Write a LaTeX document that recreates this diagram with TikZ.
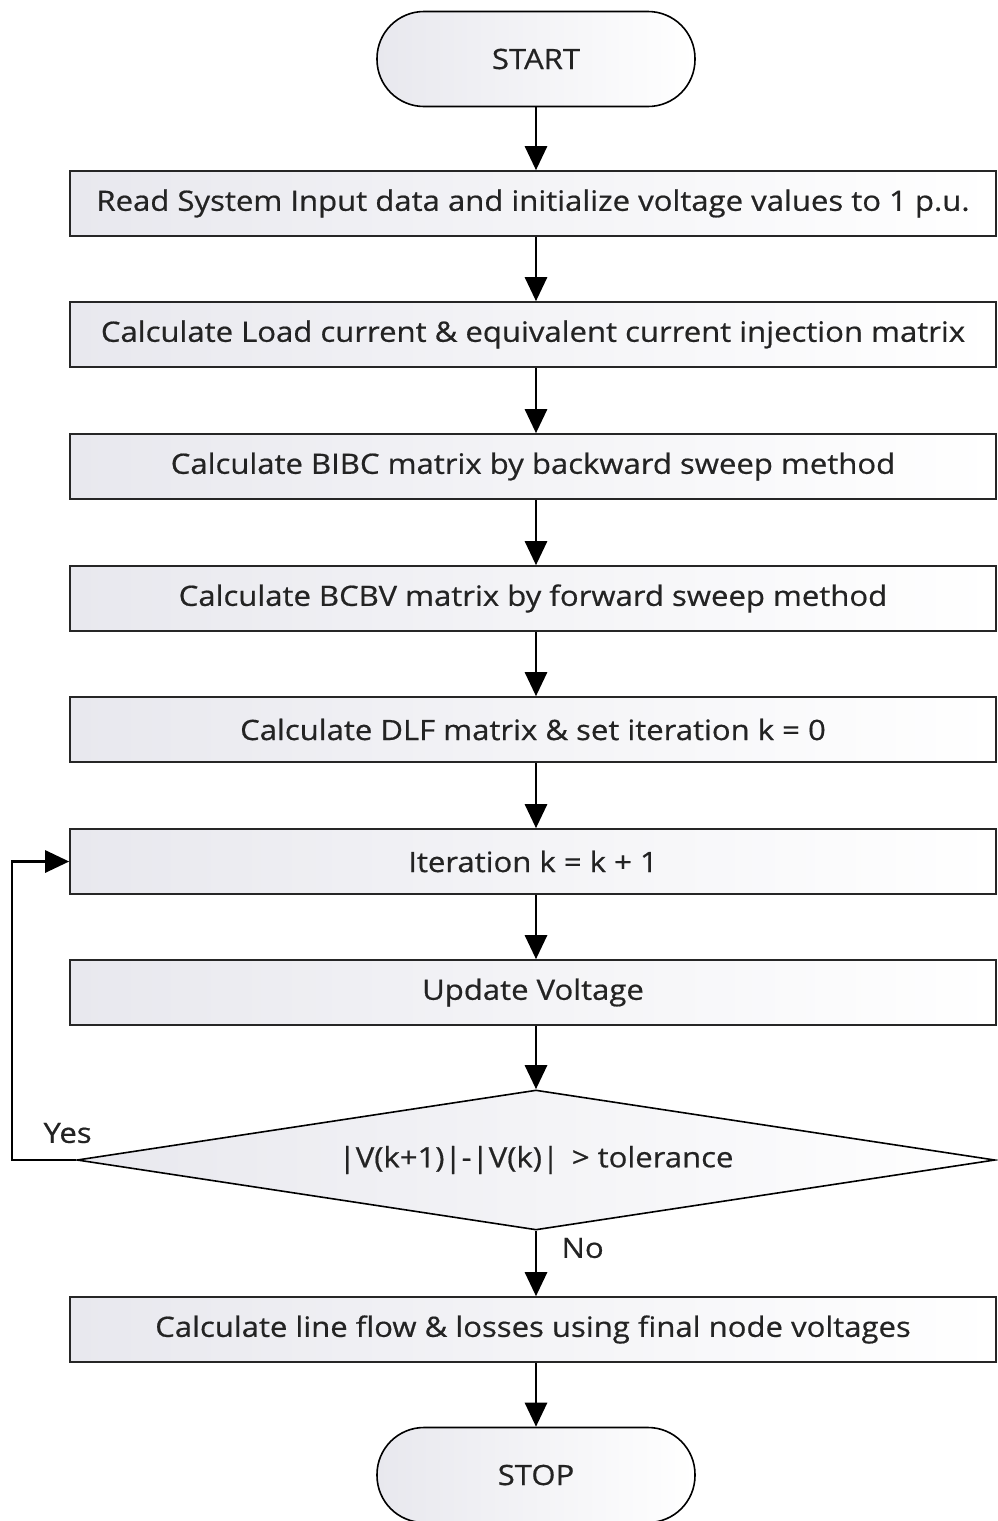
\documentclass[tikz,border=0pt]{standalone}
\usepackage{fontspec}
\setmainfont{Open Sans}[FakeStretch=1.11, FakeBold=0.6]
\usetikzlibrary{arrows.meta,shapes.geometric}
\definecolor{boxshade}{RGB}{232,232,238}
\definecolor{txt}{RGB}{35,35,35}
\begin{document}
\begin{tikzpicture}[x=1pt,y=-1pt,
  every node/.style={font=\fontsize{28}{32}\selectfont, text=txt},
  procbox/.style={draw=black!85, line width=1.6pt, left color=boxshade, right color=white,
    minimum width=926pt, minimum height=65pt, inner sep=0pt},
  termbox/.style={draw=black, line width=1.6pt, left color=boxshade, right color=white,
    rounded corners=47pt, minimum width=318pt, minimum height=95pt, inner sep=0pt},
  decbox/.style={draw=black, line width=1.6pt, shape=diamond, aspect=6.557,
    left color=boxshade, right color=white,
    minimum width=918pt, minimum height=140pt, inner sep=0pt},
  flow/.style={line width=2.8pt, -{Triangle[length=24pt,width=22pt]}},
  lbl/.style={font=\fontsize{28}{32}\selectfont}
]
\useasboundingbox (0,0) rectangle (997,1521);
\fill[white] (0,0) rectangle (997,1521);

\node[termbox] (start) at (536,59) {START};
\node[procbox] (b1) at (533,203.5) {Read System Input data and initialize voltage values to 1 p.u.};
\node[procbox] (b2) at (533,334.5) {Calculate Load current \& equivalent current injection matrix};
\node[procbox] (b3) at (533,466.5) {Calculate BIBC matrix by backward sweep method};
\node[procbox] (b4) at (533,598.5) {Calculate BCBV matrix by forward sweep method};
\node[procbox] (b5) at (533,729.5) {Calculate DLF matrix \& set iteration k = 0};
\node[procbox] (b6) at (533,861.5) {Iteration k = k + 1};
\node[procbox] (b7) at (533,992.5) {Update Voltage};
\node[decbox] (dec) at (536,1160) {|V(k+1)|-|V(k)| \,> tolerance};
\node[procbox] (b8) at (533,1329.5) {Calculate line flow \& losses using final node voltages};
\node[termbox] (stop) at (536,1475) {STOP};

\coordinate (loop) at (12,1160);

\draw[flow] (start.south) -- (start.south |- b1.north);
\draw[flow] (start.south |- b1.south) -- (start.south |- b2.north);
\draw[flow] (start.south |- b2.south) -- (start.south |- b3.north);
\draw[flow] (start.south |- b3.south) -- (start.south |- b4.north);
\draw[flow] (start.south |- b4.south) -- (start.south |- b5.north);
\draw[flow] (start.south |- b5.south) -- (start.south |- b6.north);
\draw[flow] (start.south |- b6.south) -- (start.south |- b7.north);
\draw[flow] (start.south |- b7.south) -- (dec.north);
\draw[flow] (dec.south) -- (dec.south |- b8.north);
\draw[flow] (start.south |- b8.south) -- (stop.north);
\draw[flow] (dec.west) -- (loop) |- (b6.west);

\node[lbl, anchor=west] (yes) at (40,1133) {Yes};
\node[lbl, anchor=west] (no) at (558,1248) {No};
\end{tikzpicture}
\end{document}
